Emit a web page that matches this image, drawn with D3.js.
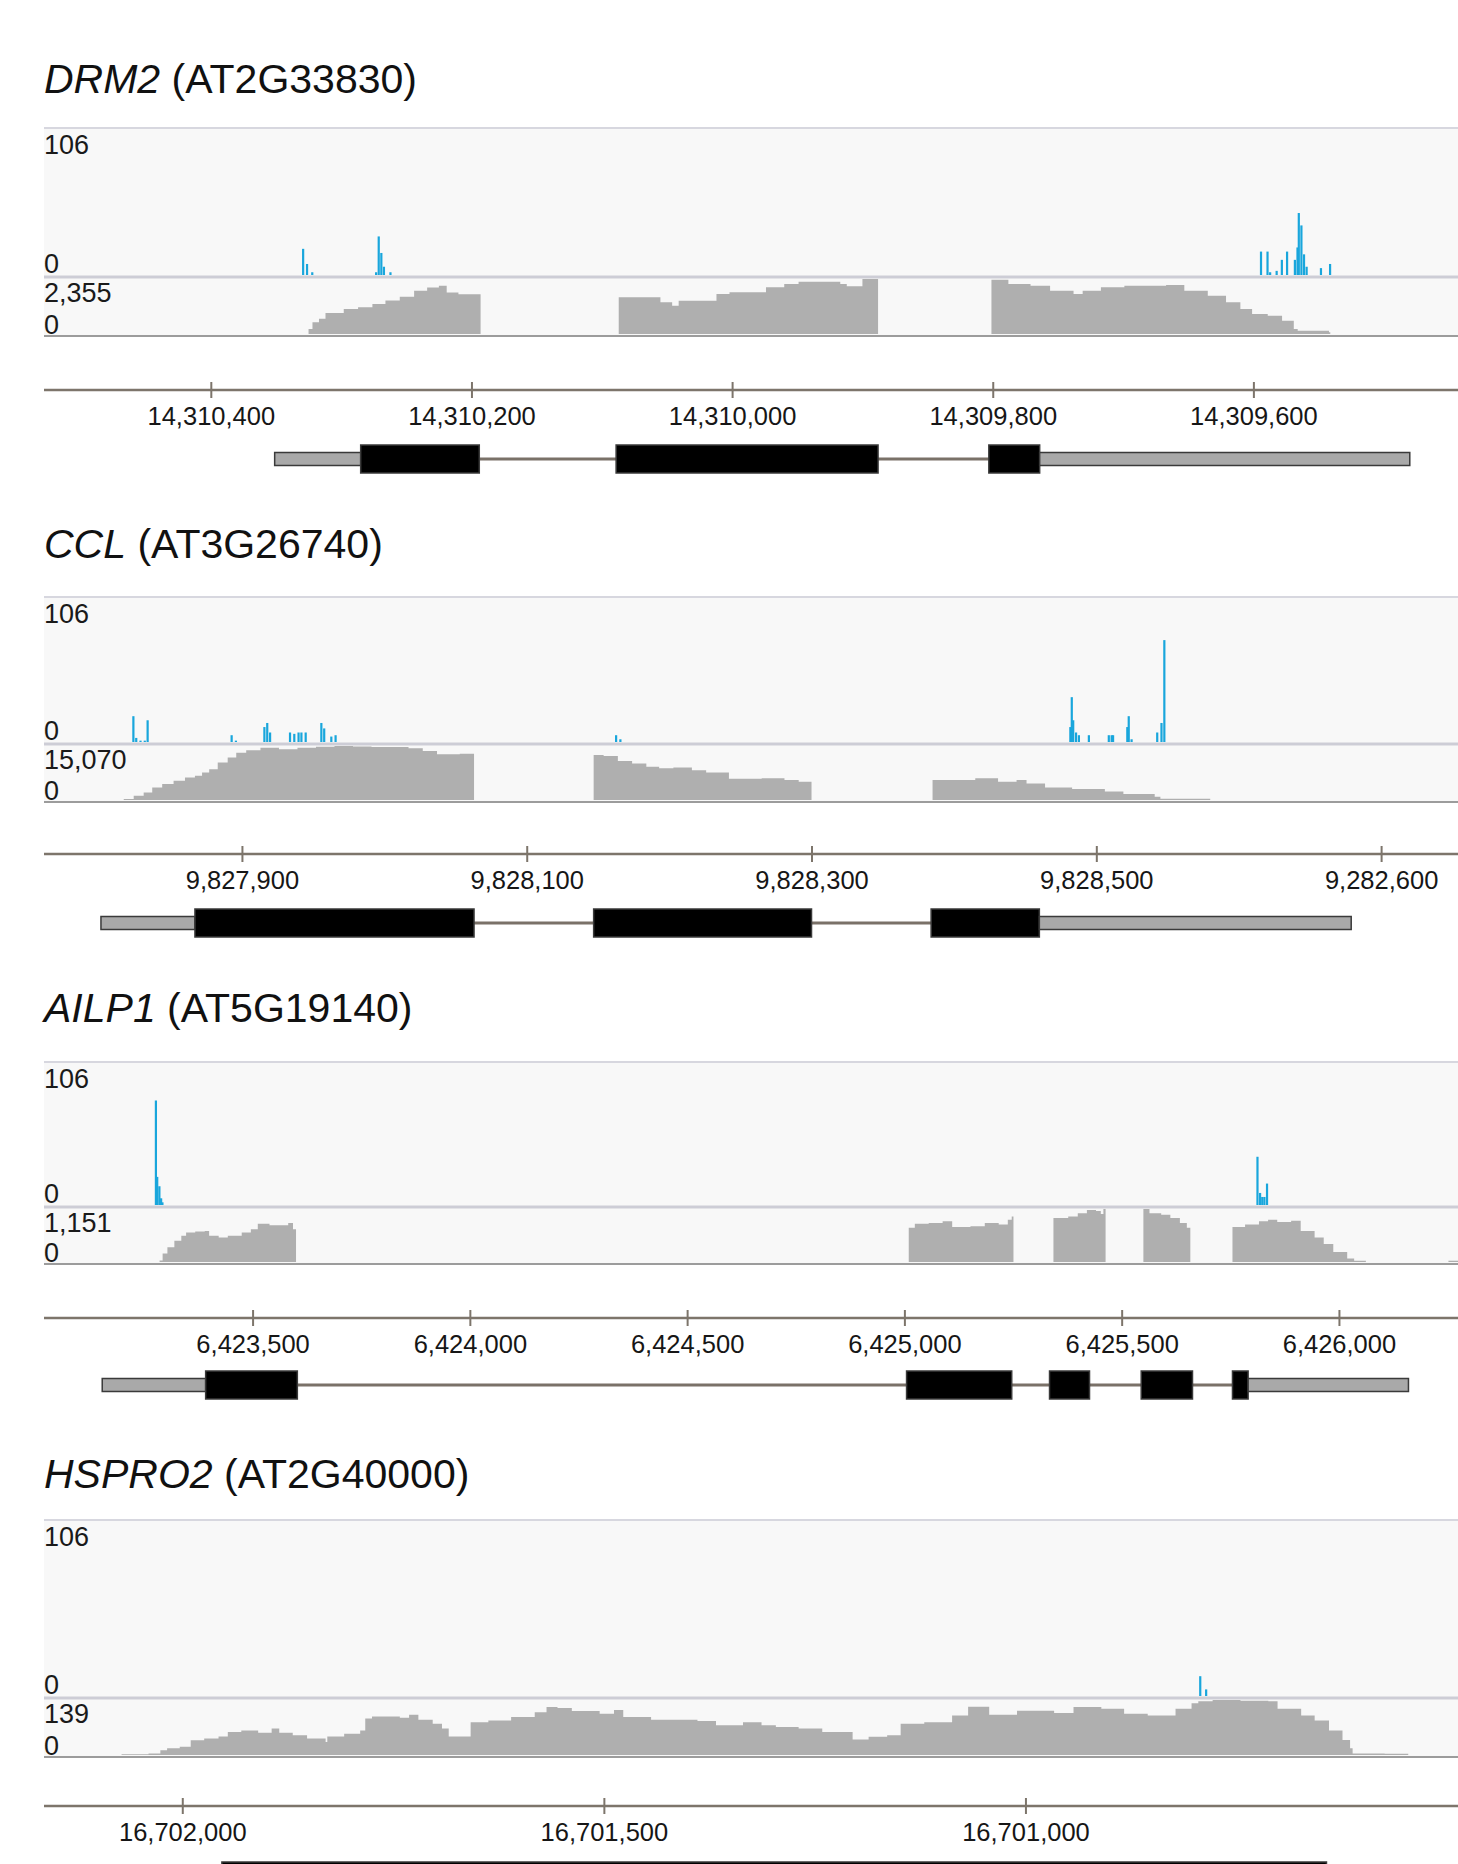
<!DOCTYPE html>
<html>
<head>
<meta charset="utf-8">
<script src="https://cdn.jsdelivr.net/npm/d3@7"></script>
<style>
  body { margin: 0; background: #fff; }
  svg { display: block; }
</style>
</head>
<body>
<div id="root"></div>
<script>
// ---- DRM2 (minus strand, axis runs right to left) ----
var drm2Domain = [14310528, 14309443];
var drm2Ticks = [14310400, 14310200, 14310000, 14309800, 14309600];
var drm2Labels = ['14,310,400', '14,310,200', '14,310,000', '14,309,800', '14,309,600'];
var drm2Reads = [[14310329, 19], [14310326, 8], [14310322, 2], [14310273, 2], [14310271, 28], [14310269, 16],
    [14310267, 6], [14310262, 2], [14309594, 17], [14309589, 17], [14309587, 2], [14309582, 3], [14309578, 11],
    [14309574, 17], [14309568, 11], [14309566, 20], [14309565, 45], [14309563, 36], [14309561, 15], [14309559, 6],
    [14309548, 5], [14309541, 8]];
var drm2CovMax = 2355;
var drm2Cov = [
    [[14310325, 214], [14310322, 500], [14310317, 650], [14310312, 900], [14310298, 1070], [14310287, 1150],
     [14310276, 1285], [14310266, 1430], [14310255, 1600], [14310244, 1850], [14310234, 1990], [14310225, 2070],
     [14310219, 1780], [14310210, 1700], [14310193, 1700]],
    [[14310087, 1570], [14310055, 1356], [14310046, 1213], [14310041, 1427], [14310012, 1713], [14310002, 1784],
     [14309974, 1998], [14309960, 2141], [14309949, 2241], [14309917, 2141], [14309912, 2041], [14309900, 2355],
     [14309888, 2355]],
    [[14309801, 2327], [14309788, 2141], [14309771, 2070], [14309756, 1855], [14309738, 1713], [14309731, 1855],
     [14309717, 1998], [14309699, 2070], [14309667, 2100], [14309653, 1855], [14309635, 1641], [14309621, 1356],
     [14309610, 1070], [14309601, 856], [14309589, 785], [14309578, 571], [14309569, 214], [14309566, 143],
     [14309542, 71], [14309541, 71]]
];
var drm2Exons = [[14310351, 14310285, 'utr'], [14310285, 14310194, 'cds'], [14310089, 14309888, 'cds'],
    [14309803, 14309764, 'cds'], [14309764, 14309480, 'utr']];

// ---- CCL ----
var cclDomain = [9827761, 9828754];
var cclTicks = [9827900, 9828100, 9828300, 9828500, 9828700];
var cclLabels = ['9,827,900', '9,828,100', '9,828,300', '9,828,500', '9,282,600'];
var cclReads = [[9827823, 19], [9827825, 3], [9827828, 1], [9827831, 1], [9827833, 16], [9827892, 5], [9827895, 1],
    [9827915, 11], [9827917, 14], [9827919, 7], [9827933, 7], [9827936, 6], [9827939, 7], [9827941, 7],
    [9827944, 7], [9827955, 14], [9827957, 10], [9827962, 4], [9827965, 5], [9828162, 5], [9828165, 2],
    [9828481, 11], [9828482, 33], [9828483, 16], [9828485, 7], [9828487, 5], [9828494, 5], [9828508, 5],
    [9828510, 5], [9828511, 5], [9828521, 11], [9828522, 19], [9828524, 2], [9828542, 7], [9828545, 14],
    [9828547, 75]];
var cclCovMax = 15070;
var cclCov = [
    [[9827817, 277], [9827824, 1202], [9827831, 2126], [9827837, 3513], [9827844, 4438], [9827852, 5362],
     [9827860, 6287], [9827867, 6749], [9827872, 7674], [9827877, 8598], [9827883, 10447], [9827890, 11826],
     [9827896, 13212], [9827903, 13858], [9827913, 14598], [9827926, 14135], [9827939, 14598], [9827952, 14875],
     [9827965, 15070], [9827978, 14950], [9827991, 14800], [9828017, 14413], [9828027, 13674], [9828037, 12750],
     [9828053, 12935], [9828063, 12935]],
    [[9828147, 12573], [9828154, 12296], [9828164, 10910], [9828174, 10170], [9828184, 9245], [9828193, 8875],
     [9828203, 9060], [9828216, 8321], [9828226, 7674], [9828242, 5900], [9828265, 6102], [9828281, 5547],
     [9828291, 5085], [9828300, 5085]],
    [[9828385, 5547], [9828415, 6102], [9828431, 5085], [9828444, 5547], [9828451, 4623], [9828464, 3513],
     [9828483, 3051], [9828506, 2404], [9828519, 1664], [9828541, 924], [9828545, 370], [9828580, 370]]
];
var cclExons = [[9827801, 9827867, 'utr'], [9827867, 9828063, 'cds'], [9828147, 9828300, 'cds'],
    [9828384, 9828460, 'cds'], [9828460, 9828679, 'utr']];

// ---- AILP1 ----
var ailp1Domain = [6423020, 6426274];
var ailp1Ticks = [6423500, 6424000, 6424500, 6425000, 6425500, 6426000];
var ailp1Labels = ['6,423,500', '6,424,000', '6,424,500', '6,425,000', '6,425,500', '6,426,000'];
var ailp1Reads = [[6423275, 78], [6423278, 21], [6423283, 14], [6423287, 5], [6423290, 2], [6425810, 36],
    [6425816, 9], [6425821, 6], [6425826, 6], [6425832, 16]];
var ailp1CovMax = 1151;
var ailp1Cov = [
    [[6423286, 30], [6423293, 182], [6423304, 323], [6423320, 463], [6423336, 568], [6423347, 639], [6423368, 660],
     [6423390, 674], [6423400, 568], [6423422, 533], [6423443, 568], [6423475, 639], [6423496, 709], [6423512, 828],
     [6423539, 800], [6423582, 849], [6423593, 709], [6423600, 709]],
    [[6425010, 744], [6425024, 828], [6425056, 849], [6425088, 884], [6425110, 758], [6425152, 779], [6425185, 849],
     [6425217, 814], [6425238, 919], [6425247, 990], [6425251, 990]],
    [[6425343, 955], [6425377, 990], [6425399, 1060], [6425420, 1130], [6425441, 1110], [6425452, 1040],
     [6425458, 1151], [6425463, 1151]],
    [[6425550, 1151], [6425564, 1060], [6425591, 1025], [6425612, 955], [6425634, 849], [6425650, 744],
     [6425658, 744]],
    [[6425755, 758], [6425784, 814], [6425816, 884], [6425837, 919], [6425858, 870], [6425890, 898], [6425912, 674],
     [6425944, 533], [6425965, 393], [6425987, 218], [6426019, 77], [6426035, 28], [6426062, 28]],
    [[6426252, 28], [6426274, 28]]
];
var ailp1Exons = [[6423154, 6423392, 'utr'], [6423392, 6423603, 'cds'], [6425005, 6425247, 'cds'],
    [6425334, 6425426, 'cds'], [6425545, 6425663, 'cds'], [6425755, 6425791, 'cds'], [6425791, 6426160, 'utr']];

// ---- HSPRO2 (minus strand) ----
var hspro2Domain = [16702164, 16700487];
var hspro2Ticks = [16702000, 16701500, 16701000];
var hspro2Labels = ['16,702,000', '16,701,500', '16,701,000'];
var hspro2Reads = [[16700793, 12], [16700786, 4]];
var hspro2CovMax = 139;
var hspro2Cov = [
    [[16702072, 2], [16702040, 4], [16702026, 12], [16702018, 17], [16702003, 21], [16701990, 37], [16701974, 42],
     [16701957, 47], [16701946, 58], [16701930, 62], [16701910, 56], [16701894, 67], [16701885, 56], [16701869, 50],
     [16701852, 42], [16701830, 33], [16701828, 47], [16701808, 54], [16701789, 62], [16701783, 92], [16701775, 97],
     [16701742, 94], [16701731, 102], [16701720, 89], [16701703, 79], [16701692, 67], [16701684, 47], [16701658, 83],
     [16701637, 87], [16701610, 96], [16701582, 108], [16701568, 121], [16701555, 119], [16701538, 111],
     [16701505, 104], [16701488, 114], [16701477, 96], [16701444, 89], [16701389, 86], [16701367, 75],
     [16701335, 83], [16701313, 75], [16701296, 71], [16701269, 67], [16701241, 58], [16701205, 39], [16701186, 46],
     [16701164, 50], [16701148, 79], [16701120, 83], [16701087, 100], [16701068, 122], [16701043, 102],
     [16701010, 112], [16700966, 106], [16700943, 121], [16700910, 117], [16700883, 104], [16700855, 100],
     [16700822, 117], [16700803, 131], [16700795, 136], [16700778, 139], [16700745, 137], [16700712, 136],
     [16700701, 117], [16700673, 100], [16700657, 87], [16700640, 62], [16700624, 38], [16700615, 17],
     [16700612, 4], [16700574, 3], [16700546, 3]]
];
var hspro2Exons = [[16701953, 16700643, 'cds']];

window.onload = function () {
    var W = 1458, H = 1864, left = 44;
    var font = '"Liberation Sans", Arial, Helvetica, sans-serif';
    var svg = d3.select('#root')
        .append('svg')
        .attr('width', W)
        .attr('height', H)
        .attr('font-family', font);

    var panels = [
        { gene: 'DRM2', locus: 'AT2G33830', domain: drm2Domain, ticks: drm2Ticks, labels: drm2Labels,
          reads: drm2Reads, cov: drm2Cov, covMax: drm2CovMax, exons: drm2Exons,
          L: { title: 93, top: 128, sep: 277, bot: 336, axis: 390, gene: 459 } },
        { gene: 'CCL', locus: 'AT3G26740', domain: cclDomain, ticks: cclTicks, labels: cclLabels,
          reads: cclReads, cov: cclCov, covMax: cclCovMax, exons: cclExons,
          L: { title: 558, top: 597, sep: 744, bot: 802, axis: 854, gene: 923 } },
        { gene: 'AILP1', locus: 'AT5G19140', domain: ailp1Domain, ticks: ailp1Ticks, labels: ailp1Labels,
          reads: ailp1Reads, cov: ailp1Cov, covMax: ailp1CovMax, exons: ailp1Exons,
          L: { title: 1022, top: 1062, sep: 1207, bot: 1264, axis: 1318, gene: 1385 } },
        { gene: 'HSPRO2', locus: 'AT2G40000', domain: hspro2Domain, ticks: hspro2Ticks, labels: hspro2Labels,
          reads: hspro2Reads, cov: hspro2Cov, covMax: hspro2CovMax, exons: hspro2Exons,
          L: { title: 1488, top: 1520, sep: 1698, bot: 1757, axis: 1806, gene: 1876 } }
    ];

    panels.forEach(function (p) {
        var L = p.L;
        var g = svg.append('g');
        var x = d3.scaleLinear().domain(p.domain).range([left, W]);

        // title
        var t = g.append('text').attr('x', left).attr('y', L.title)
            .attr('font-size', 41).attr('fill', '#111');
        t.append('tspan').attr('font-style', 'italic').text(p.gene);
        t.append('tspan').text(' (' + p.locus + ')');

        // track background
        g.append('rect').attr('x', left).attr('y', L.top)
            .attr('width', W - left).attr('height', L.bot - L.top).attr('fill', '#f8f8f8');

        // small RNA reads (blue)
        var yb = d3.scaleLinear().domain([0, 106]).range([L.sep - 2, L.top + 1]);
        var bw = Math.max(2.2, Math.abs(x(1) - x(0)));
        g.append('g').selectAll('rect')
            .data(p.reads)
            .join('rect')
            .attr('x', d => Math.min(x(d[0]), x(d[0] + 1)))
            .attr('width', bw)
            .attr('y', d => yb(d[1]))
            .attr('height', d => yb(0) - yb(d[1]))
            .attr('fill', '#19a6dc');

        // RNA-seq coverage (grey)
        var yc = d3.scaleLinear().domain([0, p.covMax]).range([L.bot - 2, L.sep + 2]);
        var area = d3.area()
            .x(d => x(d[0]))
            .y0(yc(0))
            .y1(d => yc(d[1]))
            .curve(d3.curveStepAfter);
        g.append('g').selectAll('path')
            .data(p.cov)
            .join('path')
            .attr('d', area)
            .attr('fill', '#afafaf');

        // track borders
        g.append('line').attr('x1', left).attr('x2', W).attr('y1', L.top).attr('y2', L.top)
            .attr('stroke', '#d7d7df').attr('stroke-width', 2);
        g.append('line').attr('x1', left).attr('x2', W).attr('y1', L.sep).attr('y2', L.sep)
            .attr('stroke', '#cdcdd6').attr('stroke-width', 3);
        g.append('line').attr('x1', left).attr('x2', W).attr('y1', L.bot).attr('y2', L.bot)
            .attr('stroke', '#9c9c9c').attr('stroke-width', 2);

        // track scale labels
        var fmt = d3.format(',');
        var yl = [['106', L.top + 26], ['0', L.sep - 4], [fmt(p.covMax), L.sep + 25], ['0', L.bot - 2]];
        g.append('g').selectAll('text')
            .data(yl)
            .join('text')
            .attr('x', left)
            .attr('y', d => d[1])
            .attr('font-size', 27)
            .attr('fill', '#1a1a1a')
            .text(d => d[0]);

        // coordinate axis
        var axis = d3.axisBottom(x)
            .tickValues(p.ticks)
            .tickFormat((d, i) => p.labels[i])
            .tickSize(16)
            .tickSizeOuter(0);
        var ag = g.append('g').attr('transform', 'translate(0,' + (L.axis - 8) + ')').call(axis);
        ag.select('.domain').remove();
        ag.attr('font-family', font);
        ag.selectAll('.tick line').attr('stroke', '#7d756b').attr('stroke-width', 2);
        ag.selectAll('.tick text')
            .attr('y', 43).attr('dy', null)
            .attr('font-size', 25.5).attr('fill', '#161616');
        g.append('line').attr('x1', left).attr('x2', W).attr('y1', L.axis).attr('y2', L.axis)
            .attr('stroke', '#7d756b').attr('stroke-width', 2.5);

        // gene model
        var ext = d3.extent(p.exons.flatMap(e => [x(e[0]), x(e[1])]));
        g.append('line').attr('x1', ext[0]).attr('x2', ext[1]).attr('y1', L.gene).attr('y2', L.gene)
            .attr('stroke', '#7a7168').attr('stroke-width', 3);
        g.append('g').selectAll('rect')
            .data(p.exons)
            .join('rect')
            .attr('x', d => Math.min(x(d[0]), x(d[1])))
            .attr('width', d => Math.abs(x(d[1]) - x(d[0])))
            .attr('y', d => d[2] === 'cds' ? L.gene - 14 : L.gene - 6.5)
            .attr('height', d => d[2] === 'cds' ? 28 : 13)
            .attr('fill', d => d[2] === 'cds' ? '#000' : '#a9a9a9')
            .attr('stroke', '#3a3a3a')
            .attr('stroke-width', 1.5);
    });
};
</script>
</body>
</html>
